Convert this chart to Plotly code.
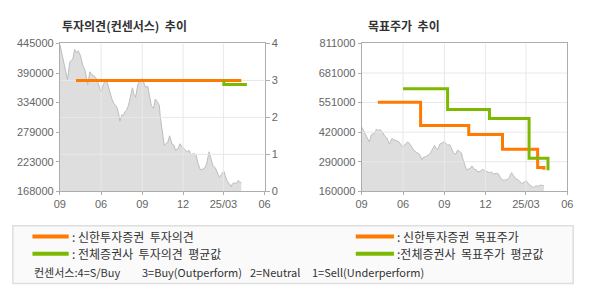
import plotly.graph_objects as go

# ---------------- data ----------------
price_dates = [
    "2024-03-01", "2024-03-06", "2024-03-12", "2024-03-18", "2024-03-23", "2024-03-26", "2024-03-30",
    "2024-04-03", "2024-04-06", "2024-04-11", "2024-04-16", "2024-04-21", "2024-04-26", "2024-05-02",
    "2024-05-07", "2024-05-12", "2024-05-18", "2024-05-23", "2024-05-27", "2024-06-01", "2024-06-06",
    "2024-06-11", "2024-06-14", "2024-06-20", "2024-06-25", "2024-06-30", "2024-07-06", "2024-07-10",
    "2024-07-13", "2024-07-17", "2024-07-21", "2024-07-24", "2024-07-28", "2024-08-01", "2024-08-06",
    "2024-08-10", "2024-08-13", "2024-08-17", "2024-08-22", "2024-08-28", "2024-09-01", "2024-09-04",
    "2024-09-08", "2024-09-13", "2024-09-17", "2024-09-21", "2024-09-26", "2024-09-30", "2024-10-05",
    "2024-10-09", "2024-10-11", "2024-10-15", "2024-10-20", "2024-10-23", "2024-10-28", "2024-11-01",
    "2024-11-06", "2024-11-11", "2024-11-14", "2024-11-20", "2024-11-24", "2024-11-29", "2024-12-05",
    "2024-12-10", "2024-12-14", "2024-12-19", "2024-12-25", "2024-12-30", "2025-01-03", "2025-01-08",
    "2025-01-13", "2025-01-19", "2025-01-23", "2025-01-28", "2025-02-01", "2025-02-06", "2025-02-11",
    "2025-02-17", "2025-02-20", "2025-02-25", "2025-03-02", "2025-03-05", "2025-03-09", "2025-03-14",
    "2025-03-18", "2025-03-21", "2025-03-25", "2025-03-29", "2025-04-03", "2025-04-07", "2025-04-10",
]
price_values = [
    443000, 425000, 404000, 377000, 410000, 413000, 416000,
    434000, 428000, 431000, 422000, 404000, 395000, 368000,
    392000, 386000, 383000, 377000, 368000, 354000, 368000,
    377000, 374000, 353000, 341000, 332000, 326000, 314000,
    299000, 311000, 311000, 317000, 320000, 329000, 347000,
    362000, 350000, 344000, 368000, 377000, 379000, 371000,
    363000, 365000, 350000, 329000, 323000, 341000, 335000,
    329000, 308000, 284000, 254000, 257000, 260000, 272000,
    257000, 254000, 245000, 248000, 257000, 251000, 245000,
    242000, 245000, 236000, 239000, 236000, 221000, 209000,
    209000, 212000, 221000, 242000, 230000, 215000, 212000,
    200000, 194000, 200000, 206000, 197000, 188000, 182000,
    176000, 182000, 184000, 182000, 188000, 185000, 184000,
]

consensus_dates = ["2024-04-06", "2025-04-10"]
consensus_values = [3.0, 3.0]
avg_consensus_dates = ["2025-03-01", "2025-03-02", "2025-04-19"]
avg_consensus_values = [3.0, 2.89, 2.85]

target_dates = ["2024-04-06", "2024-07-10", "2024-10-25", "2025-01-08", "2025-03-27", "2025-04-10"]
target_values = [552000, 450000, 410000, 345000, 265000, 255000]
avg_target_dates = ["2024-06-01", "2024-09-08", "2024-12-10", "2025-03-08", "2025-04-19"]
avg_target_values = [612000, 520000, 480000, 305000, 253000]

x_tickvals = ["2024-03-01", "2024-06-01", "2024-09-01", "2024-12-01", "2025-03-01", "2025-06-01"]
x_ticktext = ["09", "06", "09", "12", "25/03", "06"]

left_price_range = [168000, 445000]
left_price_ticktext = ["168000", "223000", "279000", "334000", "390000", "445000"]
opinion_tickvals = [0, 1, 2, 3, 4]
right_price_range = [160000, 811000]
right_price_ticktext = ["160000", "290000", "420000", "551000", "681000", "811000"]

# ---------------- style ----------------
ORANGE = "#FF7A00"
GREEN = "#7DB900"
AREA_FILL = "#DEDEDE"
AREA_LINE = "#BDBDBD"
GRID = "#E8E8E8"
FRAME = "#ADADAD"
TICKFONT = dict(family="Liberation Sans, Arial, sans-serif", size=11, color="#666666")
KFONT = "Noto Sans CJK KR, sans-serif"


def even_ticks(rng, n):
    step = (rng[1] - rng[0]) / (n - 1)
    return [rng[0] + i * step for i in range(n)]


left_price_tickvals = even_ticks(left_price_range, len(left_price_ticktext))
right_price_tickvals = even_ticks(right_price_range, len(right_price_ticktext))


def grid_trace(xs_v, y_lo, y_hi, ys_h, x_lo, x_hi, xaxis, yaxis):
    gx, gy = [], []
    for xv in xs_v:
        gx += [xv, xv, None]
        gy += [y_lo, y_hi, None]
    for yv in ys_h:
        gx += [x_lo, x_hi, None]
        gy += [yv, yv, None]
    return go.Scatter(x=gx, y=gy, mode="lines", line=dict(color=GRID, width=1),
                      hoverinfo="skip", showlegend=False, xaxis=xaxis, yaxis=yaxis)


fig = go.Figure()

# left chart: price area (y) + opinion lines (y2)
fig.add_trace(go.Scatter(x=price_dates, y=price_values, mode="lines", fill="tozeroy",
                         fillcolor=AREA_FILL, line=dict(color=AREA_LINE, width=1),
                         showlegend=False, xaxis="x", yaxis="y"))
fig.add_trace(grid_trace(x_tickvals[1:-1], opinion_tickvals[0], opinion_tickvals[-1],
                         opinion_tickvals[1:-1], x_tickvals[0], x_tickvals[-1], "x", "y2"))
fig.add_trace(go.Scatter(x=consensus_dates, y=consensus_values, mode="lines", line_shape="hv",
                         line=dict(color=ORANGE, width=3), showlegend=False, xaxis="x", yaxis="y2"))
fig.add_trace(go.Scatter(x=avg_consensus_dates, y=avg_consensus_values, mode="lines", line_shape="hv",
                         line=dict(color=GREEN, width=3), showlegend=False, xaxis="x", yaxis="y2"))

# right chart: price area + targets (y3)
fig.add_trace(go.Scatter(x=price_dates, y=price_values, mode="lines", fill="tozeroy",
                         fillcolor=AREA_FILL, line=dict(color=AREA_LINE, width=1),
                         showlegend=False, xaxis="x2", yaxis="y3"))
fig.add_trace(grid_trace(x_tickvals[1:-1], right_price_range[0], right_price_range[1],
                         right_price_tickvals[1:-1], x_tickvals[0], x_tickvals[-1], "x2", "y3"))
fig.add_trace(go.Scatter(x=target_dates, y=target_values, mode="lines", line_shape="hv",
                         line=dict(color=ORANGE, width=3), showlegend=False, xaxis="x2", yaxis="y3"))
fig.add_trace(go.Scatter(x=avg_target_dates, y=avg_target_values, mode="lines", line_shape="hv",
                         line=dict(color=GREEN, width=3), showlegend=False, xaxis="x2", yaxis="y3"))

W, H = 590, 300
ydom = [(H - 193) / H, (H - 39) / H]

xcommon = dict(type="date", range=[x_tickvals[0], x_tickvals[-1]], tickmode="array",
               tickvals=x_tickvals, ticktext=x_ticktext, showgrid=False, zeroline=False,
               showline=True, linecolor=FRAME, linewidth=1, mirror=True,
               ticks="outside", ticklen=3, tickcolor=FRAME, tickfont=TICKFONT, fixedrange=True)

fig.update_layout(
    width=W, height=H, autosize=False,
    margin=dict(l=0, r=0, t=0, b=0),
    paper_bgcolor="white", plot_bgcolor="white",
    hovermode=False, showlegend=False,
    xaxis=dict(domain=[55 / W, 264 / W], anchor="y", **xcommon),
    xaxis2=dict(domain=[363 / W, 573 / W], anchor="y3", **xcommon),
    yaxis=dict(domain=ydom, anchor="x", range=left_price_range, tickmode="array",
               tickvals=left_price_tickvals, ticktext=left_price_ticktext,
               showgrid=False, zeroline=False, showline=True, linecolor=FRAME, linewidth=1,
               ticks="outside", ticklen=3, tickcolor=FRAME, tickfont=TICKFONT, fixedrange=True),
    yaxis2=dict(overlaying="y", side="right", anchor="x", range=[opinion_tickvals[0], opinion_tickvals[-1]],
                tickmode="array", tickvals=opinion_tickvals,
                ticktext=[str(v) for v in opinion_tickvals],
                showgrid=False, zeroline=False, showline=True, linecolor=FRAME, linewidth=1,
                ticks="outside", ticklen=4, tickcolor=FRAME, tickfont=TICKFONT, fixedrange=True),
    yaxis3=dict(domain=ydom, anchor="x2", range=right_price_range, tickmode="array",
                tickvals=right_price_tickvals, ticktext=right_price_ticktext,
                showgrid=False, zeroline=False, showline=True, linecolor=FRAME, linewidth=1,
                mirror=True, ticks="outside", ticklen=3, tickcolor=FRAME, tickfont=TICKFONT,
                fixedrange=True),
)

# titles
fig.add_annotation(text="<b>투자의견(컨센서스)  추이</b>", xref="paper", yref="paper",
                   x=55 / W, y=1 - 20 / H, xanchor="left", yanchor="middle", showarrow=False,
                   font=dict(family=KFONT, size=12, color="#333333"))
fig.add_annotation(text="<b>목표주가  추이</b>", xref="paper", yref="paper",
                   x=367 / W, y=1 - 20 / H, xanchor="left", yanchor="middle", showarrow=False,
                   font=dict(family=KFONT, size=12, color="#333333"))

# legend box
fig.add_shape(type="rect", xref="paper", yref="paper", x0=7 / W, x1=579 / W,
              y0=1 - 289 / H, y1=1 - 229 / H, fillcolor="#FAFAFA",
              line=dict(color="#DEDEDE", width=1.5), layer="below")

legend_items = [
    (27, 64, 240, ORANGE, ": 신한투자증권  투자의견"),
    (27, 64, 258, GREEN, ": 전체증권사  투자의견  평균값"),
    (357, 396, 240, ORANGE, ": 신한투자증권  목표주가"),
    (357, 396, 258, GREEN, ":전체증권사  목표주가  평균값"),
]
for x0, x1, yy, col, label in legend_items:
    fig.add_shape(type="line", xref="paper", yref="paper", x0=x0 / W, x1=x1 / W,
                  y0=1 - yy / H, y1=1 - yy / H, line=dict(color=col, width=4))
    fig.add_annotation(text=label, xref="paper", yref="paper", x=(x1 + 1) / W, y=1 - yy / H,
                       xanchor="left", yanchor="middle", showarrow=False,
                       font=dict(family=KFONT, size=12, color="#333333"))

consensus_notes = [
    (27, "컨센서스:4=S/Buy"),
    (137, "3=Buy(Outperform)"),
    (247, "2=Neutral"),
    (310, "1=Sell(Underperform)"),
]
for xx, label in consensus_notes:
    fig.add_annotation(text=label, xref="paper", yref="paper", x=xx / W, y=1 - 277 / H,
                       xanchor="left", yanchor="middle", showarrow=False,
                       font=dict(family=KFONT, size=11, color="#333333"))

fig.write_html("out.html")
